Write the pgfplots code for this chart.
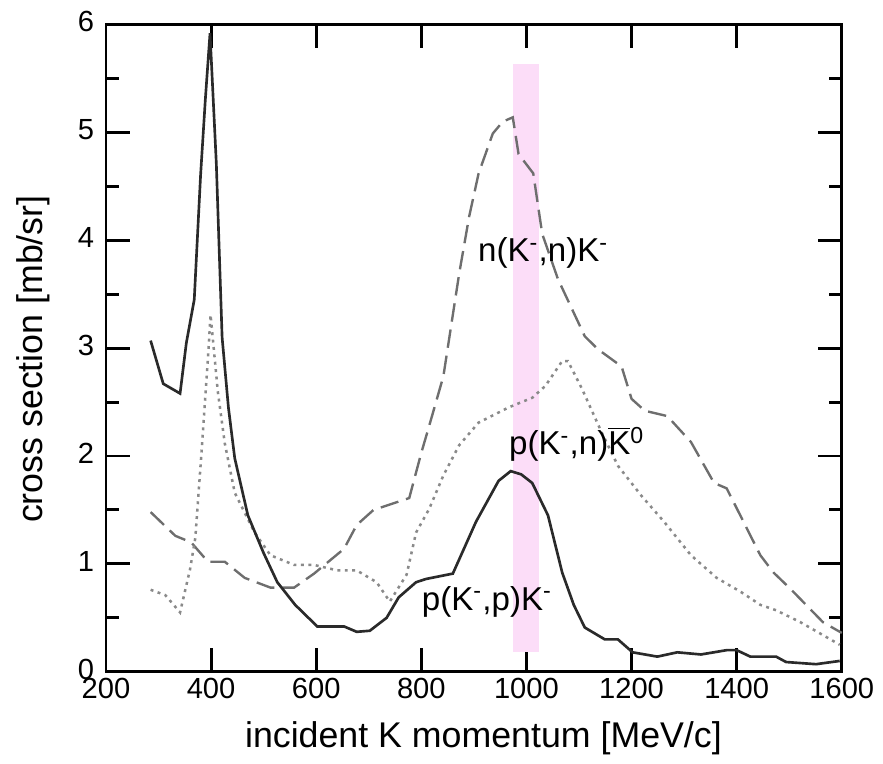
\documentclass[border=0pt]{standalone}
\usepackage{pgfplots}
\pgfplotsset{compat=1.18}
\usepackage{fontspec}
\setmainfont{Liberation Sans}
\definecolor{band}{HTML}{FCDDF8}
\definecolor{solidc}{HTML}{2A2A2A}
\definecolor{dashc}{HTML}{6E6E6E}
\definecolor{dotc}{HTML}{8A8A8A}

\begin{document}
\begin{tikzpicture}
\begin{axis}[
    scale only axis, width=278pt, height=244.5pt,
    xmin=200, xmax=1600, ymin=0, ymax=6,
    xtick={200,400,...,1600}, ytick={0,1,...,6},
    minor ytick={0.5,1.5,...,5.5},
    tick align=inside, major tick length=9pt, minor tick length=5pt,
    axis line style={line width=1.1pt}, every tick/.style={line width=1.1pt, black},
    /pgf/number format/assume math mode=true,
    /pgf/number format/1000 sep={},
    ticklabel style={font=\fontsize{11}{11}\selectfont},
    xticklabel style={yshift=1pt},
    yticklabel style={xshift=-1pt, yshift=1pt},
    xlabel={incident K momentum [MeV/c]},
    ylabel={cross section [mb/sr]},
    label style={font=\fontsize{13.5}{13.5}\selectfont},
    xlabel style={at={(axis description cs:0.513,-0.062)}, anchor=north},
    ylabel style={at={(axis description cs:-0.063,0.483)}, anchor=south},
    clip=false,
  ]
  \path (rel axis cs:-0.144,-0.123) rectangle (rel axis cs:1.046,1.038);

  % highlighted band around 1 GeV/c
  \addplot[fill=band, draw=none] coordinates {(975,0.18)(1023,0.18)(1023,5.63)(975,5.63)} -- cycle;

  % n(K-,n)K-
  \addplot[dashc, line width=0.9pt, dash pattern=on 7pt off 3pt] coordinates {
    (285,1.48)(332,1.26)(362,1.20)(394,1.02)(426,1.02)(464,0.87)(513,0.78)(558,0.78)
    (596,0.91)(653,1.14)(677,1.36)(709,1.50)(740,1.55)(777,1.61)(800,2.03)(815,2.28)
    (842,2.74)(872,3.69)(891,4.22)(909,4.62)(936,4.99)(955,5.10)(974,5.14)(985,4.80)
    (1013,4.62)(1030,4.06)(1060,3.64)(1111,3.11)(1136,2.99)(1181,2.83)(1200,2.53)
    (1225,2.42)(1268,2.37)(1313,2.13)(1357,1.75)(1381,1.70)(1413,1.39)(1445,1.08)
    (1470,0.92)(1502,0.77)(1532,0.62)(1564,0.46)(1589,0.39)(1600,0.36)};

  % p(K-,n)K0bar
  \addplot[dotc, line width=0.95pt, dash pattern=on 1.1pt off 1.7pt] coordinates {
    (285,0.76)(313,0.71)(341,0.55)(360,0.95)(370,1.24)(381,1.98)(394,2.90)(399,3.31)
    (406,2.95)(413,2.59)(426,2.12)(445,1.66)(483,1.29)(513,1.08)(558,0.99)(596,0.99)
    (640,0.94)(677,0.94)(715,0.83)(740,0.65)(772,0.90)(790,1.29)(815,1.51)(842,1.82)
    (872,2.10)(909,2.31)(966,2.45)(1011,2.54)(1036,2.65)(1068,2.88)(1079,2.88)
    (1106,2.62)(1143,2.22)(1174,1.91)(1219,1.63)(1262,1.39)(1313,1.08)(1362,0.87)
    (1408,0.74)(1445,0.62)(1475,0.57)(1521,0.46)(1564,0.34)(1596,0.25)};

  % p(K-,p)K-
  \addplot[solidc, line width=1pt] coordinates {
    (285,3.07)(309,2.67)(341,2.58)(353,3.05)(368,3.45)(380,4.6)(389,5.3)(398,5.92)
    (410,4.71)(421,3.10)(433,2.45)(445,1.98)(470,1.45)(500,1.10)(526,0.83)(560,0.62)
    (602,0.42)(653,0.42)(677,0.37)(702,0.38)(734,0.50)(757,0.69)(790,0.83)(809,0.86)
    (860,0.91)(904,1.39)(947,1.77)(970,1.86)(990,1.83)(1011,1.75)(1041,1.45)(1068,0.92)
    (1090,0.62)(1111,0.41)(1149,0.30)(1174,0.30)(1202,0.18)(1249,0.14)(1287,0.18)
    (1332,0.16)(1381,0.20)(1400,0.20)(1426,0.14)(1475,0.14)(1494,0.09)(1551,0.07)
    (1596,0.10)};

  \node[font=\fontsize{12.5}{12.5}\selectfont] at (axis cs:1032,3.88) {n(K\textsuperscript{-},n)K\textsuperscript{-}};
  \node[font=\fontsize{12.5}{12.5}\selectfont] at (axis cs:1096,2.11) {p(K\textsuperscript{-},n)$\overline{\mbox{K}}$\textsuperscript{0}};
  \node[font=\fontsize{12.5}{12.5}\selectfont] at (axis cs:925,0.65) {p(K\textsuperscript{-},p)K\textsuperscript{-}};
\end{axis}
\end{tikzpicture}
\end{document}
